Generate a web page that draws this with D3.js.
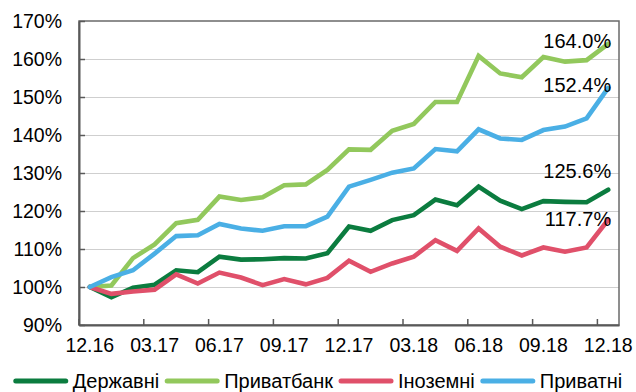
<!DOCTYPE html>
<html>
<head>
<meta charset="utf-8">
<script src="https://cdn.jsdelivr.net/npm/d3@7/dist/d3.min.js"></script>
<style>
  html, body { margin: 0; padding: 0; background: #fff; }
  svg { display: block; font-family: "Liberation Sans", Arial, sans-serif; }
</style>
</head>
<body>
<svg id="chart" width="636" height="392"></svg>
<script>
// Monthly categories, Dec 2016 – Dec 2018
const months = ["12.16","01.17","02.17","03.17","04.17","05.17","06.17","07.17","08.17","09.17","10.17","11.17",
                "12.17","01.18","02.18","03.18","04.18","05.18","06.18","07.18","08.18","09.18","10.18","11.18","12.18"];
const monthTicks = ["12.16","03.17","06.17","09.17","12.17","03.18","06.18","09.18","12.18"];
const yTicks = [90, 100, 110, 120, 130, 140, 150, 160, 170];

// Index values, % of Dec 2016
const derzhavni   = [100, 97.3, 99.8, 100.6, 104.4, 103.9, 108.0, 107.2, 107.3, 107.6, 107.5, 108.9,
                     115.9, 114.8, 117.6, 118.9, 123.0, 121.5, 126.4, 122.7, 120.5, 122.6, 122.4, 122.3, 125.6];
const pryvatbank  = [100, 100.4, 107.6, 111.2, 116.8, 117.7, 123.8, 122.9, 123.6, 126.8, 127.0, 130.8,
                     136.2, 136.1, 141.1, 142.9, 148.7, 148.7, 160.8, 156.2, 155.2, 160.5, 159.3, 159.7, 164.0];
const inozemni    = [100, 98.2, 98.8, 99.3, 103.3, 100.9, 103.8, 102.5, 100.5, 102.1, 100.7, 102.4,
                     106.9, 104.0, 106.2, 108.0, 112.3, 109.5, 115.4, 110.6, 108.3, 110.4, 109.3, 110.4, 117.7];
const pryvatni    = [100, 102.6, 104.4, 108.8, 113.4, 113.6, 116.6, 115.4, 114.8, 116.0, 116.0, 118.5,
                     126.4, 128.2, 130.1, 131.2, 136.3, 135.7, 141.5, 139.1, 138.7, 141.3, 142.2, 144.4, 152.4];

const seriesNames  = ["Державні", "Приватбанк", "Іноземні", "Приватні"];
const seriesValues = [derzhavni, pryvatbank, inozemni, pryvatni];
const seriesColors = ["#0b7c3f", "#92c85c", "#e0506a", "#4aafe5"];

const svg = d3.select("#chart");
const W = 636, H = 392;
const plot = { left: 79, right: 619, top: 21, bottom: 325 };

const x = d3.scaleBand().domain(months).range([plot.left, plot.right]).padding(0);
const bw = x.bandwidth();
const cx = m => x(m) + bw / 2;
const y = d3.scaleLinear().domain([90, 170]).range([plot.bottom, plot.top]);

// Horizontal gridlines
svg.append("g")
  .attr("transform", `translate(${plot.left},0)`)
  .call(d3.axisLeft(y).tickValues(yTicks.slice(1, -1)).tickSize(-(plot.right - plot.left)).tickFormat(""))
  .call(g => g.select(".domain").remove())
  .call(g => g.selectAll("line").attr("stroke", "#cfcfcf").attr("stroke-width", 1.2));

// Frame
svg.append("rect")
  .attr("x", plot.left).attr("y", plot.top)
  .attr("width", plot.right - plot.left).attr("height", plot.bottom - plot.top)
  .attr("fill", "none").attr("stroke", "#6a6a6a").attr("stroke-width", 1.5);

// Y axis: inward ticks, percent labels
const yAxis = svg.append("g")
  .attr("transform", `translate(${plot.left},0)`)
  .call(d3.axisLeft(y).tickValues(yTicks).tickSizeInner(-6).tickSizeOuter(0).tickPadding(17)
          .tickFormat(d => d + "%"));
yAxis.select(".domain").attr("stroke", "#595959").attr("stroke-width", 2);
yAxis.selectAll("line").attr("stroke", "#595959").attr("stroke-width", 1.5);
yAxis.selectAll("text").attr("font-size", 19.5).attr("fill", "#000")
  .attr("font-family", "Liberation Sans, Arial, sans-serif");

// X axis: labels centred on months, tick marks between categories
const xAxis = svg.append("g")
  .attr("transform", `translate(0,${plot.bottom})`)
  .call(d3.axisBottom(x).tickValues(monthTicks).tickSize(0).tickPadding(13));
xAxis.select(".domain").attr("stroke", "#595959").attr("stroke-width", 2);
xAxis.selectAll("text").attr("font-size", 19.5).attr("fill", "#000")
  .attr("font-family", "Liberation Sans, Arial, sans-serif");

const xTickMarks = svg.append("g")
  .attr("transform", `translate(${-bw / 2},${plot.bottom})`)
  .call(d3.axisBottom(x).tickValues(monthTicks).tickSize(-6).tickFormat(""));
xTickMarks.select(".domain").remove();
xTickMarks.selectAll("line").attr("stroke", "#595959").attr("stroke-width", 1.5);

// Series lines
const line = d3.line().x((d, i) => cx(months[i])).y(d => y(d));
svg.append("g").selectAll("path")
  .data(seriesValues)
  .join("path")
  .attr("d", d => line(d))
  .attr("fill", "none")
  .attr("stroke", (d, i) => seriesColors[i])
  .attr("stroke-width", 4.6)
  .attr("stroke-linejoin", "miter")
  .attr("stroke-linecap", "round");

// End-of-series value labels
const labelDy = [-12, 4, 6, 4];
svg.append("g").selectAll("text")
  .data(seriesValues)
  .join("text")
  .attr("x", cx(months[months.length - 1]) + 3)
  .attr("y", (d, i) => y(d[d.length - 1]) + labelDy[i])
  .attr("text-anchor", "end")
  .attr("font-size", 20)
  .attr("fill", "#000")
  .text(d => d[d.length - 1].toFixed(1) + "%");

// Legend, centred under the chart
const legend = svg.append("g");
const legendY = 381, swatch = 54, gapText = 5, gapItem = 6;
let lx = 0;
seriesNames.forEach((name, i) => {
  const g = legend.append("g").attr("transform", `translate(${lx},0)`);
  g.append("line")
    .attr("x1", 2).attr("x2", swatch - 2).attr("y1", legendY).attr("y2", legendY)
    .attr("stroke", seriesColors[i]).attr("stroke-width", 5).attr("stroke-linecap", "round");
  const t = g.append("text")
    .attr("x", swatch + gapText).attr("y", legendY).attr("dy", "0.35em")
    .attr("font-size", 20).attr("fill", "#000").text(name);
  lx += swatch + gapText + t.node().getComputedTextLength() + gapItem;
});
const legendW = lx - gapItem;
legend.attr("transform", `translate(${(W - legendW) / 2},0)`);
</script>
</body>
</html>
